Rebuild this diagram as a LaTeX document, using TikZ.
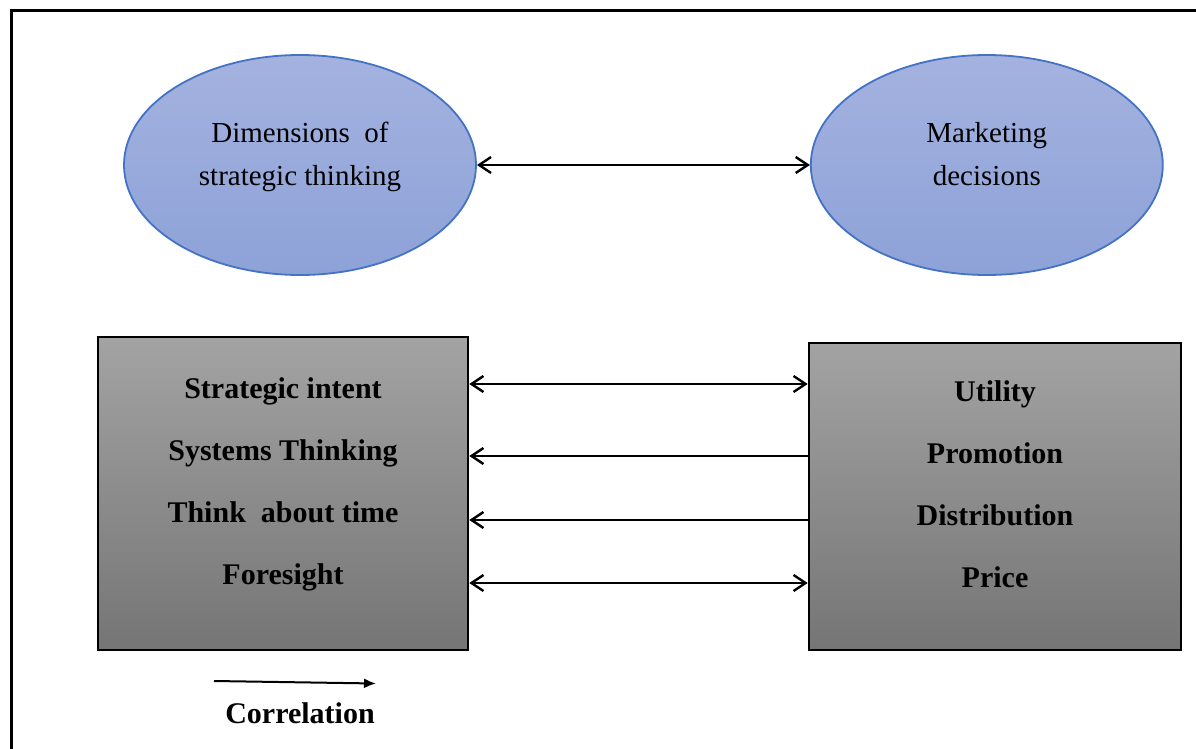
\documentclass[tikz,border=0pt]{standalone}
\usepackage{fontspec}
\setmainfont{Liberation Serif}
\usetikzlibrary{arrows,arrows.meta,shapes.geometric,positioning}
\definecolor{ovaltop}{HTML}{A4B2DF}
\definecolor{ovalbot}{HTML}{8DA2D8}
\definecolor{ovalline}{HTML}{4472C4}
\definecolor{boxtop}{HTML}{A3A3A3}
\definecolor{boxbot}{HTML}{757575}

\begin{document}
\begin{tikzpicture}[x=1pt,y=-1pt,>={Straight Barb[length=12pt,width=16pt]},line width=2.4pt,
oval/.style={ellipse,draw=ovalline,line width=1.8pt,top color=ovaltop,bottom color=ovalbot,minimum width=352pt,minimum height=220pt,inner sep=0pt,align=center,text depth=22pt,font=\fontsize{29}{43}\selectfont},
block/.style={rectangle,draw=black,line width=2.6pt,top color=boxtop,bottom color=boxbot,inner sep=0pt,align=center,text depth=25pt,font=\fontsize{30}{62}\selectfont\bfseries}]
\useasboundingbox (0,0) rectangle (1196,749);
\draw[line width=3pt] (11,749) -- (11,11) -- (1196,11);

\node[oval] (dims) at (300,165) {Dimensions~ of\\strategic thinking};
\node[oval] (mkt) [right=333pt of dims] {Marketing\\decisions};
\node[block,minimum width=370pt,minimum height=313pt] (lbox) at (283,493.5) {Strategic intent\\Systems Thinking\\Think~ about time\\Foresight};
\node[block,minimum width=372pt,minimum height=307pt] (rbox) at (995,496.5) {Utility\\Promotion\\Distribution\\Price};

\path (dims) edge[<->] (mkt)
([yshift=109.5pt]lbox.east) edge[<->] ([yshift=112.5pt]rbox.west)
([yshift=40.5pt]rbox.west) edge[->] ([yshift=37.5pt]lbox.east)
([yshift=-23.5pt]rbox.west) edge[->] ([yshift=-26.5pt]lbox.east)
([yshift=-89.5pt]lbox.east) edge[<->] ([yshift=-86.5pt]rbox.west);

% legend
\coordinate (c0) at (214,681);
\coordinate (c1) at (376,683.5);
\draw[-{Latex[length=12pt,width=10pt]},line width=2pt] (c0) -- (c1);
\node[font=\fontsize{30}{36}\selectfont\bfseries] (corr) at (300,713) {Correlation};
\end{tikzpicture}
\end{document}
